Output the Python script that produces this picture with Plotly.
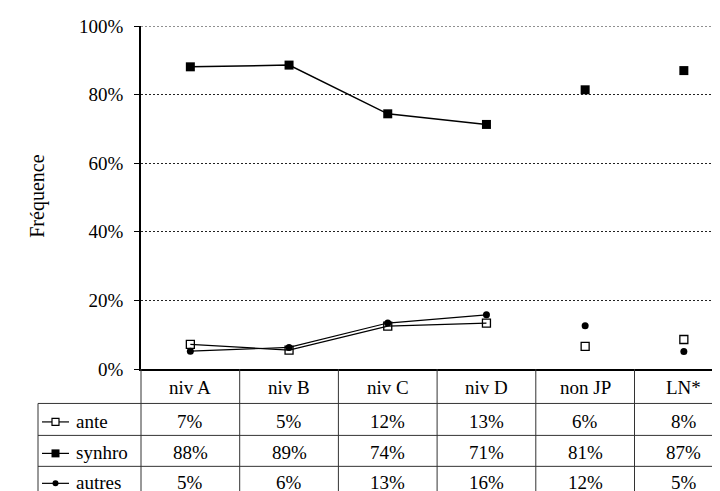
import plotly.graph_objects as go

# ---------------- data ----------------
categories = ["niv A", "niv B", "niv C", "niv D", "non JP", "LN*"]
series_names = ["ante", "synhro", "autres"]
ante = [7.2, 5.5, 12.5, 13.4, 6.6, 8.6]
synhro = [88.1, 88.6, 74.4, 71.3, 81.4, 87.0]
autres = [5.2, 6.3, 13.4, 15.8, 12.6, 5.1]
ante_labels = ["7%", "5%", "12%", "13%", "6%", "8%"]
synhro_labels = ["88%", "89%", "74%", "71%", "81%", "87%"]
autres_labels = ["5%", "6%", "13%", "16%", "12%", "5%"]
ytick_vals = [0, 20, 40, 60, 80, 100]
ytick_text = ["0%", "20%", "40%", "60%", "80%", "100%"]
y_title = "Fréquence"
n_linked = 4  # the first four categories are joined by lines

# ---------------- geometry ----------------
OFF = 8  # page body margin: the figure starts 8px from the window corner
W, H = 720, 491
L, R, T, B = 141 - OFF, 0, 26 - OFF, 491 - (369.5 - OFF)
FONT = "Liberation Serif"
FS = 19
col_px = 98.7  # width of one category column in pixels
plot_w = W - L - R
plot_h = H - T - B
x_span = plot_w / col_px


def px_x(px):  # window pixel -> paper x
    return (px - OFF - L) / plot_w


def px_y(py):  # window pixel -> paper y
    return (H - B - (py - OFF)) / plot_h


xs = list(range(len(categories)))

styles = {
    "ante": dict(symbol="square-open", size=8, color="black", line=dict(width=1.3, color="black")),
    "synhro": dict(symbol="square", size=9, color="black"),
    "autres": dict(symbol="circle", size=7, color="black"),
}
line_w = {"ante": 1.2, "synhro": 1.5, "autres": 1.2}
values = {"ante": ante, "synhro": synhro, "autres": autres}
labels = {"ante": ante_labels, "synhro": synhro_labels, "autres": autres_labels}

fig = go.Figure()
for name in ["synhro", "ante", "autres"]:
    v = values[name]
    fig.add_trace(go.Scatter(
        x=xs[:n_linked], y=v[:n_linked], mode="lines+markers",
        line=dict(color="black", width=line_w[name]),
        marker=styles[name], showlegend=False, hoverinfo="skip"))
    fig.add_trace(go.Scatter(
        x=xs[n_linked:], y=v[n_linked:], mode="markers",
        marker=styles[name], showlegend=False, hoverinfo="skip"))

shapes = []
annotations = []
line_col = "#333333"
bottom = px_y(H + 30)

# top gridline (100%)
shapes.append(dict(type="line", xref="paper", yref="y", x0=0, x1=1, y0=100, y1=100,
                   line=dict(color="#222222", width=1, dash="2px,2px")))

# column separators in the table
for k in range(1, len(categories) + 1):
    shapes.append(dict(type="line", xref="x", yref="paper", x0=k - 0.5, x1=k - 0.5,
                       y0=0, y1=bottom, line=dict(color=line_col, width=1)))
# continuation of the y axis through the table
shapes.append(dict(type="line", xref="paper", yref="paper", x0=0, x1=0,
                   y0=0, y1=bottom, line=dict(color=line_col, width=1)))
# legend column left border
shapes.append(dict(type="line", xref="paper", yref="paper", x0=px_x(38), x1=px_x(38),
                   y0=px_y(404), y1=bottom, line=dict(color=line_col, width=1)))
row_lines = [404, 436, 467]
for ry in row_lines:
    shapes.append(dict(type="line", xref="paper", yref="paper", x0=px_x(38), x1=1,
                       y0=px_y(ry), y1=px_y(ry), line=dict(color=line_col, width=1)))

# header row
for i, c in enumerate(categories):
    annotations.append(dict(x=i, y=px_y(388.5), xref="x", yref="paper", text=c,
                            showarrow=False, xanchor="center", yanchor="middle",
                            font=dict(family=FONT, size=FS, color="black")))

row_centers = {"ante": 422, "synhro": 453.5, "autres": 483.5}
for name in series_names:
    yc = row_centers[name]
    for i, t in enumerate(labels[name]):
        annotations.append(dict(x=i, y=px_y(yc), xref="x", yref="paper", text=t,
                                showarrow=False, xanchor="center", yanchor="middle",
                                font=dict(family=FONT, size=FS, color="black")))
    annotations.append(dict(x=px_x(74), y=px_y(yc), xref="paper", yref="paper", text=name,
                            showarrow=False, xanchor="left", yanchor="middle",
                            font=dict(family=FONT, size=FS, color="black")))
    sy = yc + 0.5
    shapes.append(dict(type="line", xref="paper", yref="paper", x0=px_x(42), x1=px_x(69),
                       y0=px_y(sy), y1=px_y(sy), line=dict(color="black", width=1.2)))

# legend markers
cx = 55.5
sy = row_centers["ante"] + 0.5
shapes.append(dict(type="rect", xref="paper", yref="paper", x0=px_x(cx - 3.5), x1=px_x(cx + 3.5),
                   y0=px_y(sy - 3.5), y1=px_y(sy + 3.5), fillcolor="white",
                   line=dict(color="black", width=1.2)))
sy = row_centers["synhro"] + 0.5
shapes.append(dict(type="rect", xref="paper", yref="paper", x0=px_x(cx - 4), x1=px_x(cx + 4),
                   y0=px_y(sy - 4), y1=px_y(sy + 4), fillcolor="black",
                   line=dict(color="black", width=0)))
sy = row_centers["autres"] + 0.5
shapes.append(dict(type="circle", xref="paper", yref="paper", x0=px_x(cx - 3), x1=px_x(cx + 3),
                   y0=px_y(sy - 3), y1=px_y(sy + 3), fillcolor="black",
                   line=dict(color="black", width=0)))

# y axis title
annotations.append(dict(x=px_x(38), y=px_y(197), xref="paper", yref="paper", text=y_title,
                        showarrow=False, textangle=-90, xanchor="center", yanchor="middle",
                        font=dict(family=FONT, size=FS + 1, color="black")))

fig.update_layout(
    width=W, height=H,
    margin=dict(l=L, r=R, t=T, b=B, pad=0),
    paper_bgcolor="white", plot_bgcolor="white",
    font=dict(family=FONT, size=FS, color="black"),
    shapes=shapes, annotations=annotations,
    xaxis=dict(range=[-0.5, -0.5 + x_span], showticklabels=False, ticks="",
               showgrid=False, zeroline=False, showline=True, linecolor="black",
               linewidth=2, fixedrange=True),
    yaxis=dict(range=[0, 100], tickvals=ytick_vals, ticktext=ytick_text,
               ticks="outside", ticklen=5, tickcolor="black", tickwidth=1,
               ticklabelstandoff=7,
               showline=True, linecolor="black", linewidth=1.5,
               showgrid=True, gridcolor="#222222", gridwidth=1, griddash="2px,2px",
               zeroline=False, fixedrange=True,
               tickfont=dict(family=FONT, size=FS, color="black")),
)

fig.write_html("out.html")
